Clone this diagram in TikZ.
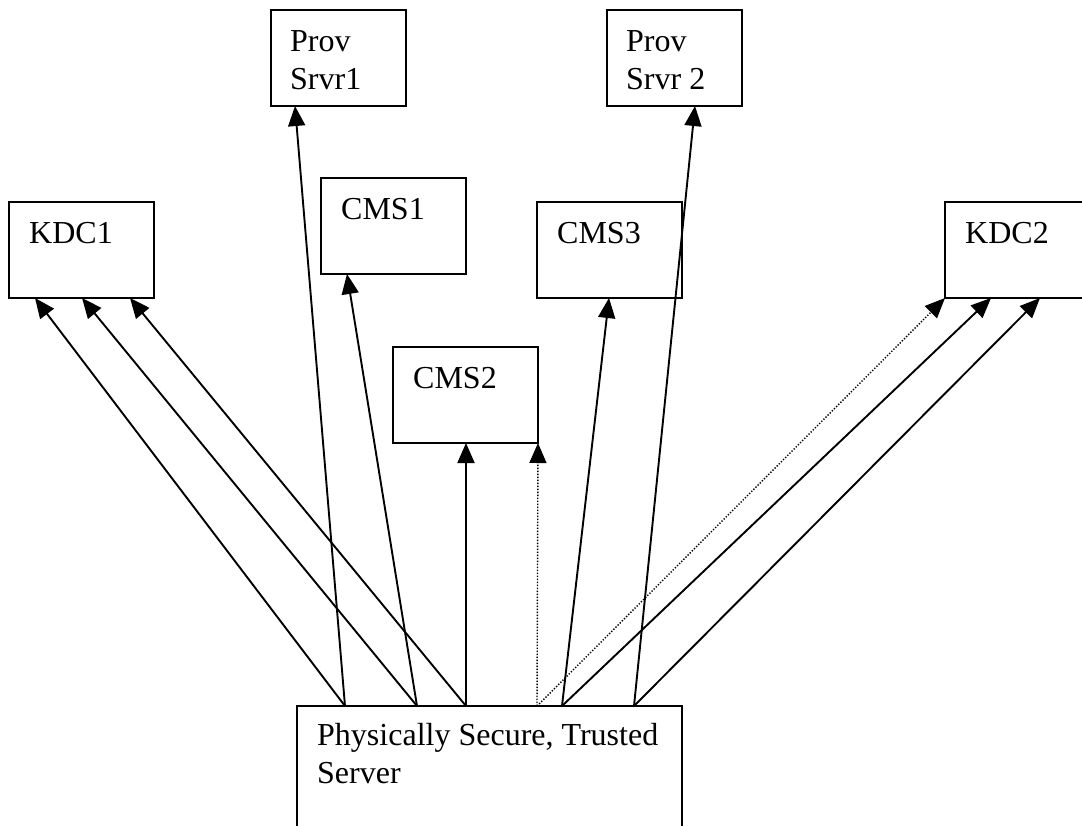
\documentclass[tikz,border=0pt]{standalone}
\usepackage{fontspec}
\setmainfont{Liberation Serif}
\usetikzlibrary{arrows.meta}

\tikzset{
  box/.style={draw, line width=2pt, rectangle, anchor=north west,
    minimum width=145pt, minimum height=96pt, inner sep=0pt, outer sep=0pt},
  smallbox/.style={box, minimum width=135pt},
  boxtext/.style={anchor=base west, inner sep=0pt, align=left,
    font=\fontsize{32}{38}\selectfont},
  link/.style={line width=1.9pt, -{Triangle[length=20pt,width=17pt]}},
  dottedlink/.style={line width=1.4pt, dash pattern=on 1.3pt off 1.7pt,
    -{Triangle[length=20pt,width=17pt]}}
}

\begin{document}
\begin{tikzpicture}[x=1pt, y=-1pt]
  \useasboundingbox (0,0) rectangle (1082,825);
  \fill[white] (0,0) rectangle (1082,825);
  \clip (0,0) rectangle (1082,825);

  % boxes
  \node[smallbox] (ps1) at (271,10) {};
  \node[smallbox] (ps2) at (607,10) {};
  \node[box] (kdc1) at (9,202) {};
  \node[box] (cms1) at (321,178) {};
  \node[box] (cms3) at (537,202) {};
  \node[box] (kdc2) at (945,202) {};
  \node[box] (cms2) at (393,347) {};
  \node[box, minimum width=385pt, minimum height=200pt] (srv) at (297,706) {};

  % labels (two-line labels sit on their last baseline)
  \node[boxtext] (ps1t) at ([shift={(19pt,-79pt)}]ps1.north west) {Prov\\Srvr1};
  \node[boxtext] (ps2t) at ([shift={(19pt,-79pt)}]ps2.north west) {Prov\\Srvr 2};
  \node[boxtext] (kdc1t) at ([shift={(20pt,-41pt)}]kdc1.north west) {KDC1};
  \node[boxtext] (cms1t) at ([shift={(20pt,-41pt)}]cms1.north west) {CMS1};
  \node[boxtext] (cms3t) at ([shift={(20pt,-41pt)}]cms3.north west) {CMS3};
  \node[boxtext] (kdc2t) at ([shift={(20pt,-41pt)}]kdc2.north west) {KDC2};
  \node[boxtext] (cms2t) at ([shift={(20pt,-41pt)}]cms2.north west) {CMS2};
  \node[boxtext] (srvt) at ([shift={(20pt,-77pt)}]srv.north west) {Physically Secure, Trusted\\Server};

  % connector ends on the server
  \coordinate (s1) at ([xshift=48pt]srv.north west);
  \coordinate (s2) at ([xshift=120pt]srv.north west);
  \coordinate (s3) at ([xshift=169pt]srv.north west);
  \coordinate (s4) at ([xshift=240pt]srv.north west);
  \coordinate (s5) at ([xshift=265pt]srv.north west);
  \coordinate (s6) at ([xshift=337pt]srv.north west);

  % connector ends on the other boxes
  \coordinate (k1a) at ([xshift=26pt]kdc1.south west);
  \coordinate (k1b) at ([xshift=73pt]kdc1.south west);
  \coordinate (k1c) at ([xshift=121pt]kdc1.south west);
  \coordinate (k2a) at (kdc2.south west);
  \coordinate (k2b) at ([xshift=46pt]kdc2.south west);
  \coordinate (k2c) at ([xshift=95pt]kdc2.south west);
  \coordinate (p1) at ([xshift=24pt]ps1.south west);
  \coordinate (p2) at ([xshift=88pt]ps2.south west);
  \coordinate (c1) at ([xshift=26pt]cms1.south west);
  \coordinate (c2a) at ([xshift=73pt]cms2.south west);
  \coordinate (c2b) at (cms2.south east);
  \coordinate (c3) at ([xshift=72pt]cms3.south west);

  % connectors
  \draw[link] (s1) -- (k1a);
  \draw[link] (s1) -- (p1);
  \draw[link] (s2) -- (k1b);
  \draw[link] (s2) -- (c1);
  \draw[link] (s3) -- (k1c);
  \draw[link] (s3) -- (c2a);
  \draw[dottedlink] (s4) -- (c2b);
  \draw[dottedlink] (s4) -- (k2a);
  \draw[link] (s5) -- (c3);
  \draw[link] (s5) -- (k2b);
  \draw[link] (s6) -- (p2);
  \draw[link] (s6) -- (k2c);
\end{tikzpicture}
\end{document}
